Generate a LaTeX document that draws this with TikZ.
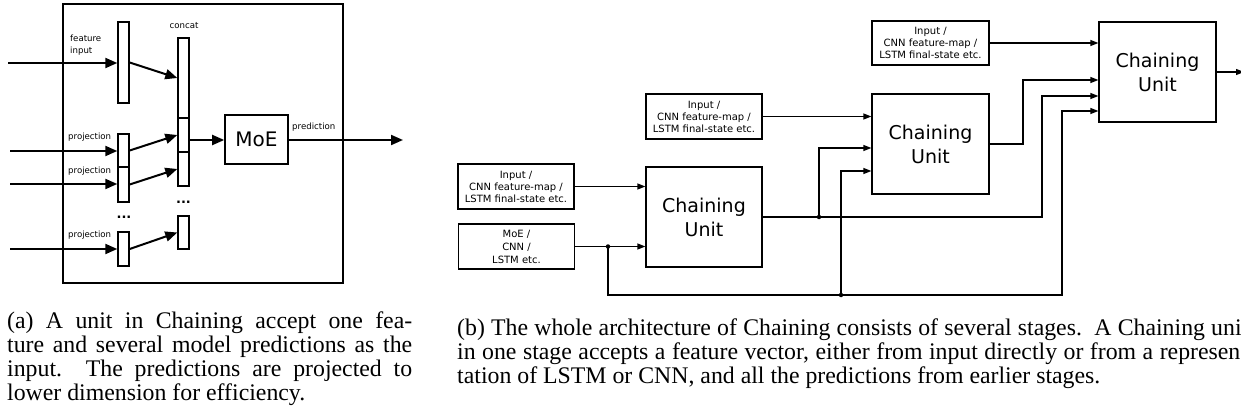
\documentclass[tikz,border=0pt]{standalone}
\usepackage{fontspec}
\setmainfont{Liberation Serif}
\newfontfamily\dvs{DejaVu Sans}
\usetikzlibrary{arrows.meta}
\begin{document}
\begin{tikzpicture}[x=1pt,y=-1pt,
  barbox/.style={draw, line width=1.4pt, inner sep=0pt, minimum width=11pt, fill=white},
  lab/.style={font=\dvs\fontsize{8.6}{12}\selectfont, inner sep=0pt},
  larr/.style={line width=2pt, -{Triangle[length=12pt,width=10pt]}},
  rbox/.style={draw, line width=1.2pt, inner sep=0pt, align=center},
  smallbox/.style={rbox, minimum width=116pt, minimum height=45pt, font=\dvs\fontsize{10}{12}\selectfont},
  cubox/.style={rbox, minimum width=116pt, minimum height=100pt, font=\dvs\fontsize{19}{24}\selectfont},
  rl/.style={line width=1.2pt},
  rarr/.style={rl, -{Triangle[length=8pt,width=6pt]}},
  jdot/.style={circle, fill, inner sep=0pt, minimum size=4.5pt},
  ellips/.style={inner sep=0pt, font=\dvs\bfseries\fontsize{13}{13}\selectfont},
  captext/.style={inner sep=0pt, anchor=north west, align=left, font=\fontsize{23.8}{23.8}\selectfont}
]
\useasboundingbox (0,0) rectangle (1241,414);

% ---------- left panel ----------
\node[draw, line width=1.6pt, minimum width=280pt, minimum height=279pt, inner sep=0pt] (unit) at (203,143.5) {};
\node[barbox, minimum height=81pt] (feat) at (123.5,62.5) {};
\node[barbox, minimum height=80pt] (c1) at (183.5,78) {};
\node[barbox, minimum height=34pt] (c2) at (183.5,135) {};
\node[barbox, minimum height=34pt] (c3) at (183.5,169) {};
\node[barbox, minimum height=33pt] (c4) at (183.5,232.5) {};
\node[barbox, minimum height=33pt] (p1) at (123.5,150.5) {};
\node[barbox, minimum height=35pt] (p2) at (123.5,184.5) {};
\node[barbox, minimum height=34pt] (p3) at (123.5,249) {};
\node[draw, line width=1.6pt, minimum width=63pt, minimum height=49pt, inner sep=0pt,
      font=\dvs\fontsize{20}{24}\selectfont] (moe) at (256.5,139.5) {MoE};

\node[ellips] (dl) at (124,217) {...};
\node[ellips] (dr) at (183.5,202) {...};

\node[lab, anchor=west, align=left] (lfeat) at (70,45) {feature\\input};
\node[lab, anchor=west] (lp1) at (68,137) {projection};
\node[lab, anchor=west] (lp2) at (68,171) {projection};
\node[lab, anchor=west] (lp3) at (68,235) {projection};
\node[lab] (lcat) at (184,26) {concat};
\node[lab, anchor=west] (lpred) at (292,127) {prediction};

\coordinate (i0) at (8,63);
\coordinate (i1) at (10,151);
\coordinate (i2) at (10,184);
\coordinate (i3) at (10,249);
\coordinate (o) at (403,140);

\draw[larr] (i0) -- (i0 -| feat.west);
\draw[larr] (i1) -- (i1 -| p1.west);
\draw[larr] (i2) -- (i2 -| p2.west);
\draw[larr] (i3) -- (i3 -| p3.west);
\draw[larr] (feat.east) -- (c1.west);
\draw[larr] (p1.east) -- (c2.west);
\draw[larr] (p2.east) -- (c3.west);
\draw[larr] (p3.east) -- (c4.west);
\draw[larr] (c2.east |- o) -- (o -| moe.west);
\draw[larr] (o -| moe.east) -- (o);

% ---------- right panel ----------
\node[smallbox] (ina) at (516,186.5) {Input /\\CNN feature-map /\\LSTM final-state etc.};
\node[smallbox, font=\dvs\fontsize{10}{13}\selectfont] (inm) at (516.5,246.5) {MoE /\\CNN /\\LSTM etc.};
\node[cubox] (cu1) at (704,217) {Chaining\\Unit};
\node[smallbox] (inb) at (704,116.5) {Input /\\CNN feature-map /\\LSTM final-state etc.};
\node[cubox, minimum width=117pt] (cu2) at (930.5,144) {Chaining\\Unit};
\node[smallbox, minimum width=117pt, minimum height=44pt] (inc) at (930.5,43) {Input /\\CNN feature-map /\\LSTM final-state etc.};
\node[cubox, minimum width=117pt] (cu3) at (1157.5,72) {Chaining\\Unit};

\node[jdot] (j1) at (608,246.5) {};
\node[jdot] (j2) at (841,295) {};
\node[jdot] (j3) at (819,217) {};

\coordinate (r1) at (1042,96);
\coordinate (r2) at (1023,80);
\coordinate (r4) at (819,148);
\coordinate (r5) at (1062,111);
\coordinate (r6) at (841,171);
\coordinate (o3) at (1244,72);

\draw[rarr] (ina.east) -- (ina.east -| cu1.west);
\draw[rarr] (inm.east) -- (inm.east -| cu1.west);
\draw[rarr] (inb.east) -- (inb.east -| cu2.west);
\draw[rarr] (inc.east) -- (inc.east -| cu3.west);
\draw[rarr] (cu1.east) -- (j3.center) -| (r1) -- (r1 -| cu3.west);
\draw[rarr] (j3.center) -- (r4) -- (r4 -| cu2.west);
\draw[rarr] (cu2.east) -| (r2) -- (r2 -| cu3.west);
\draw[rarr] (j1.center) |- (j2.center) -| (r5) -- (r5 -| cu3.west);
\draw[rarr] (j2.center) -- (r6) -- (r6 -| cu2.west);
\draw[rarr] (cu3.east) -- (o3);

% ---------- captions ----------
\node[captext] (capa) at (7,312) {%
\makebox[405pt][s]{(a) A unit in Chaining accept one fea-}\\
\makebox[405pt][s]{ture and several model predictions as the}\\
\makebox[405pt][s]{input.\ \ The predictions are projected to}\\
\makebox[405pt][l]{lower dimension for efficiency.}};
\node[captext] (capb) at (457,319) {%
\makebox[791pt][s]{(b) The whole architecture of Chaining consists of several stages.\ \ A Chaining unit}\\
\makebox[791pt][s]{in one stage accepts a feature vector, either from input directly or from a represen-}\\
\makebox[791pt][l]{tation of LSTM or CNN, and all the predictions from earlier stages.}};
\end{tikzpicture}
\end{document}
